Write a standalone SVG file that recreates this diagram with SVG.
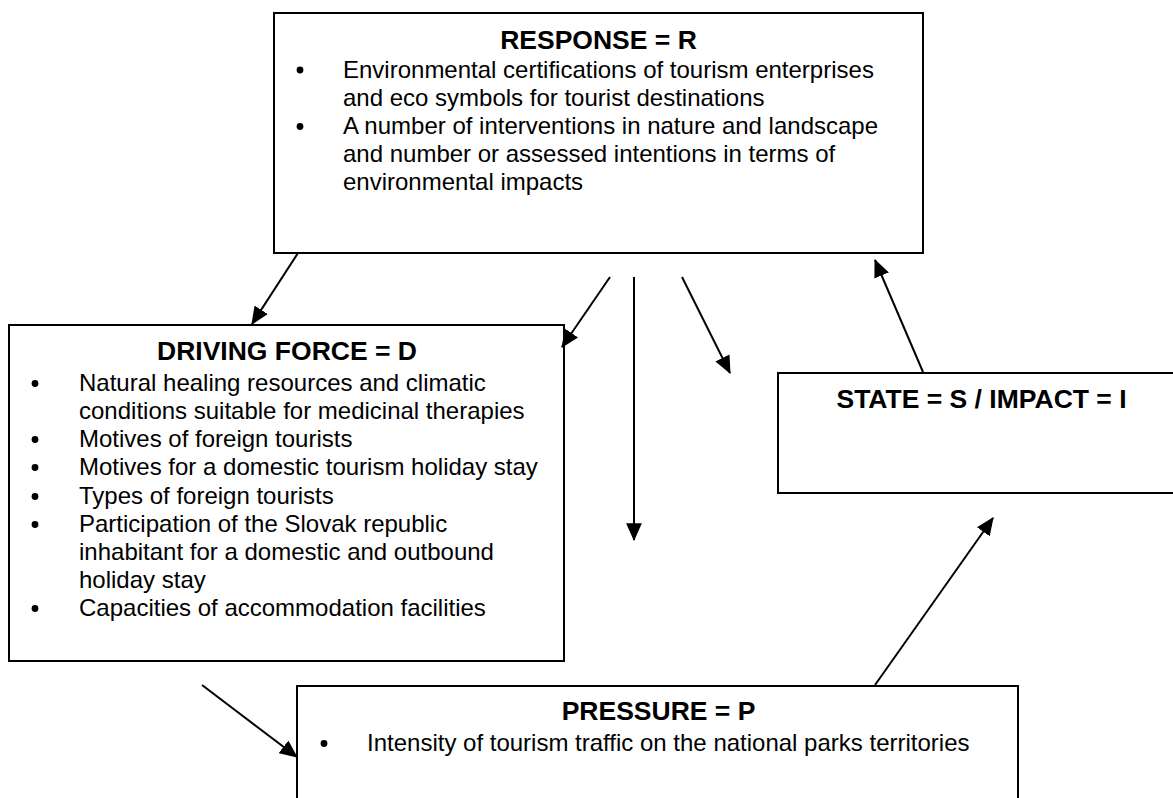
<svg xmlns="http://www.w3.org/2000/svg" width="1173" height="798" viewBox="0 0 1173 798">
  <style>
    .box { fill: #ffffff; stroke: #000000; stroke-width: 2; }
    .title { font-family: "Liberation Sans", Arial, sans-serif; font-size: 26.5px; font-weight: bold; fill: #000000; text-anchor: middle; }
    .item { font-family: "Liberation Sans", Arial, sans-serif; font-size: 24px; fill: #000000; }
    .dot { fill: #000000; }
    .link { fill: none; stroke: #000000; stroke-width: 2; marker-end: url(#head); }
  </style>
  <defs>
    <marker id="head" markerUnits="userSpaceOnUse" markerWidth="18" markerHeight="16" viewBox="0 0 16 14" refX="15" refY="7" orient="auto">
      <path d="M0,0 L16,7 L0,14 Z" fill="#000000"/>
    </marker>
  </defs>
  <rect width="1173" height="798" fill="#ffffff"/>

  <!-- Response -->
  <g id="node-response">
    <rect class="box" x="274" y="13" width="649" height="240"/>
    <text class="title" x="598.5" y="48.5">RESPONSE = R</text>
    <circle class="dot" cx="300" cy="70" r="3.4"/>
    <text class="item" x="343" y="77.5">Environmental certifications of tourism enterprises</text>
    <text class="item" x="343" y="105.5">and eco symbols for tourist destinations</text>
    <circle class="dot" cx="300" cy="126.5" r="3.4"/>
    <text class="item" x="343" y="134">A number of interventions in nature and landscape</text>
    <text class="item" x="343" y="162">and number or assessed intentions in terms of</text>
    <text class="item" x="343" y="190">environmental impacts</text>
  </g>

  <!-- Driving force -->
  <g id="node-driving-force">
    <rect class="box" x="9" y="325" width="555" height="336"/>
    <text class="title" x="287" y="360">DRIVING FORCE = D</text>
    <circle class="dot" cx="35" cy="383.5" r="3.4"/>
    <text class="item" x="79" y="391">Natural healing resources and climatic</text>
    <text class="item" x="79" y="419">conditions suitable for medicinal therapies</text>
    <circle class="dot" cx="35" cy="439.5" r="3.4"/>
    <text class="item" x="79" y="447">Motives of foreign tourists</text>
    <circle class="dot" cx="35" cy="467.5" r="3.4"/>
    <text class="item" x="79" y="475">Motives for a domestic tourism holiday stay</text>
    <circle class="dot" cx="35" cy="496.5" r="3.4"/>
    <text class="item" x="79" y="504">Types of foreign tourists</text>
    <circle class="dot" cx="35" cy="524.5" r="3.4"/>
    <text class="item" x="79" y="532">Participation of the Slovak republic</text>
    <text class="item" x="79" y="560">inhabitant for a domestic and outbound</text>
    <text class="item" x="79" y="588">holiday stay</text>
    <circle class="dot" cx="35" cy="608.5" r="3.4"/>
    <text class="item" x="79" y="616">Capacities of accommodation facilities</text>
  </g>

  <!-- State / Impact -->
  <g id="node-state-impact">
    <rect class="box" x="778" y="373" width="420" height="120"/>
    <text class="title" x="981.5" y="408">STATE = S / IMPACT = I</text>
  </g>

  <!-- Pressure -->
  <g id="node-pressure">
    <rect class="box" x="297" y="686" width="721" height="130"/>
    <text class="title" x="658.5" y="720">PRESSURE = P</text>
    <circle class="dot" cx="324" cy="743.5" r="3.4"/>
    <text class="item" x="367" y="751">Intensity of tourism traffic on the national parks territories</text>
  </g>

  <!-- Connectors -->
  <g id="connectors">
    <line class="link" x1="298" y1="253" x2="252" y2="324"/>
    <line class="link" x1="610" y1="277" x2="562" y2="347"/>
    <line class="link" x1="634" y1="277" x2="634" y2="540"/>
    <line class="link" x1="682" y1="277" x2="730" y2="373"/>
    <line class="link" x1="202" y1="685" x2="297" y2="757"/>
    <line class="link" x1="875" y1="685" x2="993" y2="518"/>
    <line class="link" x1="923" y1="372" x2="875" y2="260"/>
  </g>
</svg>
